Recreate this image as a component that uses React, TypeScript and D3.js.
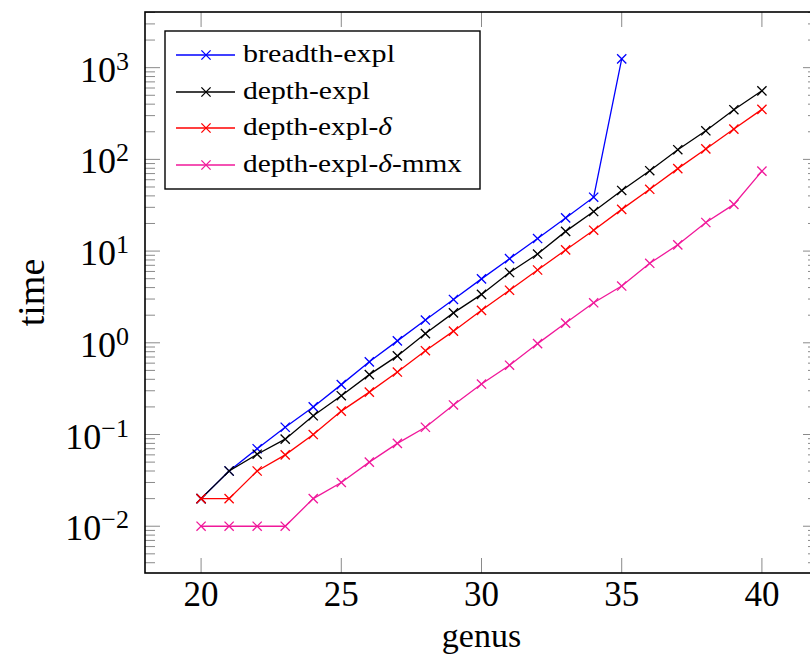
import React from "react";
import * as d3 from "d3";

const genus = [20,21,22,23,24,25,26,27,28,29,30,31,32,33,34,35,36,37,38,39,40];
const breadthExpl = [0.02,0.04,0.07,0.12,0.2,0.35,0.62,1.05,1.77,2.97,4.98,8.27,13.7,23.0,38.7,1248];
const depthExpl = [0.02,0.04,0.061,0.089,0.16,0.265,0.45,0.72,1.26,2.12,3.37,5.84,9.29,16.4,27.0,45.8,75.2,127.5,205,348,559];
const depthExplDelta = [0.02,0.02,0.04,0.06,0.1,0.18,0.29,0.48,0.82,1.34,2.26,3.74,6.22,10.3,16.9,28.5,47.2,79.3,130,214,351];
const depthExplDeltaMmx = [0.01,0.01,0.01,0.01,0.02,0.03,0.05,0.08,0.12,0.21,0.355,0.57,0.98,1.64,2.73,4.16,7.36,11.7,20.5,32.3,74.4];

const seriesNames = ["breadth-expl","depth-expl","depth-expl-δ","depth-expl-δ-mmx"];
const seriesColors = ["#0000ff","#000000","#ff0000","#f0189a"];
const seriesData = [breadthExpl, depthExpl, depthExplDelta, depthExplDeltaMmx];

const xTicks = [20,25,30,35,40];
const yTickExps = [-2,-1,0,1,2,3];

const W = 810, H = 658;
const L = 145, R = 818, T = 12, B = 573;
const FONT = "'Liberation Serif', 'DejaVu Serif', 'Noto Serif', Tinos, FreeSerif, 'Nimbus Roman', 'Times New Roman', Times, serif";

export default function App() {
  const x = d3.scaleLinear().domain([18, 42]).range([L, R]);
  const y = d3.scaleLog().domain([Math.pow(10, -2.51), Math.pow(10, 3.607)]).range([B, T]);
  const line = d3.line<[number, number]>().x(d => x(d[0])).y(d => y(d[1]));

  const minor: number[] = [];
  for (let e = -3; e <= 3; e++) {
    for (let m = 2; m <= 9; m++) {
      const v = m * Math.pow(10, e);
      const py = y(v);
      if (py >= T && py <= B) minor.push(v);
    }
  }
  const cross = (cx: number, cy: number, s = 4.6) =>
    `M${cx - s},${cy - s}L${cx + s},${cy + s}M${cx - s},${cy + s}L${cx + s},${cy - s}`;

  const legendY = [55, 92, 128, 165];
  const legendLen = [152, 127, 149, 219];

  return (
    <svg width={W} height={H} style={{ position: "absolute", left: 0, top: 0, background: "#fff" }}>
      <rect x={0} y={0} width={W} height={H} fill="#fff" />
      {/* ticks */}
      <g stroke="#8a8a8a" strokeWidth={1}>
        {xTicks.map(t => (
          <g key={"xt" + t}>
            <line x1={x(t)} x2={x(t)} y1={B} y2={B - 15} />
            <line x1={x(t)} x2={x(t)} y1={T} y2={T + 15} />
          </g>
        ))}
        {yTickExps.map(e => (
          <g key={"yt" + e}>
            <line x1={L} x2={L + 15} y1={y(Math.pow(10, e))} y2={y(Math.pow(10, e))} />
            <line x1={R} x2={R - 15} y1={y(Math.pow(10, e))} y2={y(Math.pow(10, e))} />
          </g>
        ))}
        {minor.map((v, i) => (
          <g key={"mt" + i}>
            <line x1={L} x2={L + 10} y1={y(v)} y2={y(v)} />
            <line x1={R} x2={R - 10} y1={y(v)} y2={y(v)} />
          </g>
        ))}
      </g>
      {/* series */}
      {seriesData.map((vals, si) => {
        const pts: [number, number][] = vals.map((v, i) => [genus[i], v]);
        return (
          <g key={"s" + si} stroke={seriesColors[si]} fill="none" strokeWidth={1.3}>
            <path d={line(pts) || ""} />
            {pts.map((p, i) => (
              <path key={i} d={cross(x(p[0]), y(p[1]))} />
            ))}
          </g>
        );
      })}
      {/* axis box */}
      <rect x={L} y={T} width={R - L} height={B - T} fill="none" stroke="#000" strokeWidth={1.6} />
      <g style={{ fontFamily: FONT }} fill="#000">
        {/* x tick labels */}
        {xTicks.map(t => (
          <text key={"xl" + t} x={x(t)} y={606} textAnchor="middle" fontSize={35}>{t}</text>
        ))}
        {/* y tick labels */}
        {yTickExps.map(e => (
          <text key={"yl" + e} x={129} y={y(Math.pow(10, e)) + 14} textAnchor="end" fontSize={36}>
            10<tspan dy={-12} fontSize={26}>{e < 0 ? "\u2212" + Math.abs(e) : String(e)}</tspan>
          </text>
        ))}
        {/* axis labels */}
        <text x={(L + R) / 2} y={647} textAnchor="middle" fontSize={34}>genus</text>
        <text transform={`translate(44, ${(T + B) / 2}) rotate(-90)`} textAnchor="middle" fontSize={38}>time</text>
      </g>
      {/* legend */}
      <rect x={165} y={31} width={315} height={158} fill="#fff" stroke="#000" strokeWidth={1.4} />
      {seriesNames.map((n, i) => {
        const parts = n.split("δ");
        return (
          <g key={"lg" + i}>
            <line x1={176} x2={235} y1={legendY[i]} y2={legendY[i]} stroke={seriesColors[i]} strokeWidth={1.3} />
            <path d={cross(206, legendY[i])} stroke={seriesColors[i]} strokeWidth={1.3} fill="none" />
            <text x={243} y={legendY[i] + 7} fontSize={25} fill="#000" style={{ fontFamily: FONT }} textLength={legendLen[i]} lengthAdjust="spacingAndGlyphs">
              {parts.map((p, j) => (
                <React.Fragment key={j}>
                  {p}
                  {j < parts.length - 1 ? <tspan fontStyle="italic">δ</tspan> : null}
                </React.Fragment>
              ))}
            </text>
          </g>
        );
      })}
    </svg>
  );
}
